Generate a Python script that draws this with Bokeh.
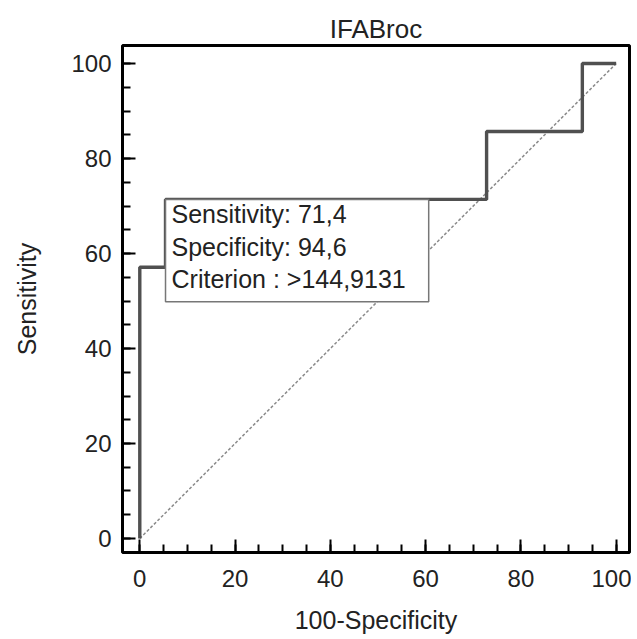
from bokeh.plotting import figure
from bokeh.models import Range1d, SingleIntervalTicker, Label
from bokeh.embed import file_html
from bokeh.resources import INLINE

# ---- data ----
title_text = "IFABroc"
x_label = "100-Specificity"
y_label = "Sensitivity"
roc_x = [0, 0, 5.4, 5.4, 72.8, 72.8, 92.9, 92.9, 100]
roc_y = [0, 57.1, 57.1, 71.4, 71.4, 85.7, 85.7, 100, 100]
diag_x = [0, 100]
diag_y = [0, 100]
crit_sens = 71.4
crit_spec = 94.6
crit_text = ["Sensitivity: 71,4", "Specificity: 94,6", "Criterion : >144,9131"]

FONT = "Liberation Sans"
TXT = "#222222"

p = figure(width=631, height=636, output_backend="svg", toolbar_location=None,
           x_range=Range1d(-3.63, 102.8), y_range=Range1d(-2.95, 103.8),
           min_border_left=122, min_border_right=2, min_border_top=45, min_border_bottom=84)

p.title.text = title_text
p.title.align = "center"
p.title.text_font = FONT
p.title.text_font_size = "26px"
p.title.text_font_style = "normal"
p.title.text_color = TXT
p.title.standoff = 4

p.background_fill_color = "white"
p.border_fill_color = "white"
p.outline_line_color = "black"
p.outline_line_width = 3
p.xgrid.visible = False
p.ygrid.visible = False

for ax, lab in ((p.xaxis[0], x_label), (p.yaxis[0], y_label)):
    ax.ticker = SingleIntervalTicker(interval=20, num_minor_ticks=4)
    ax.axis_label = lab
    ax.axis_label_text_font = FONT
    ax.axis_label_text_font_size = "25px"
    ax.axis_label_text_font_style = "normal"
    ax.axis_label_text_color = TXT
    ax.major_label_text_font = FONT
    ax.major_label_text_font_size = "24px"
    ax.major_label_text_color = TXT
    ax.axis_line_color = None
    ax.major_tick_in = 13
    ax.major_tick_out = 0
    ax.minor_tick_in = 8
    ax.minor_tick_out = 0
    ax.major_tick_line_color = "black"
    ax.minor_tick_line_color = "black"
    ax.major_tick_line_width = 2
    ax.minor_tick_line_width = 2

p.xaxis.major_label_standoff = 17
p.xaxis.axis_label_standoff = 16
p.yaxis.major_label_standoff = 11
p.yaxis.axis_label_standoff = 27

p.line(diag_x, diag_y, line_color="#8a8a8a", line_width=1.5, line_dash="3 2")
p.line(roc_x, roc_y, line_color="#505050", line_width=3.4)

lbl = Label(x=100 - crit_spec, y=crit_sens, text="\n".join(crit_text),
            anchor="top_left", text_font=FONT, text_font_size="25px",
            text_color=TXT, text_line_height=1.15,
            background_fill_color="white", background_fill_alpha=1.0,
            border_line_color="#777777", border_line_width=1.5,
            padding=(6, 23, 1, 9))
p.add_layout(lbl)

open("out.html", "w").write(file_html(p, INLINE))
